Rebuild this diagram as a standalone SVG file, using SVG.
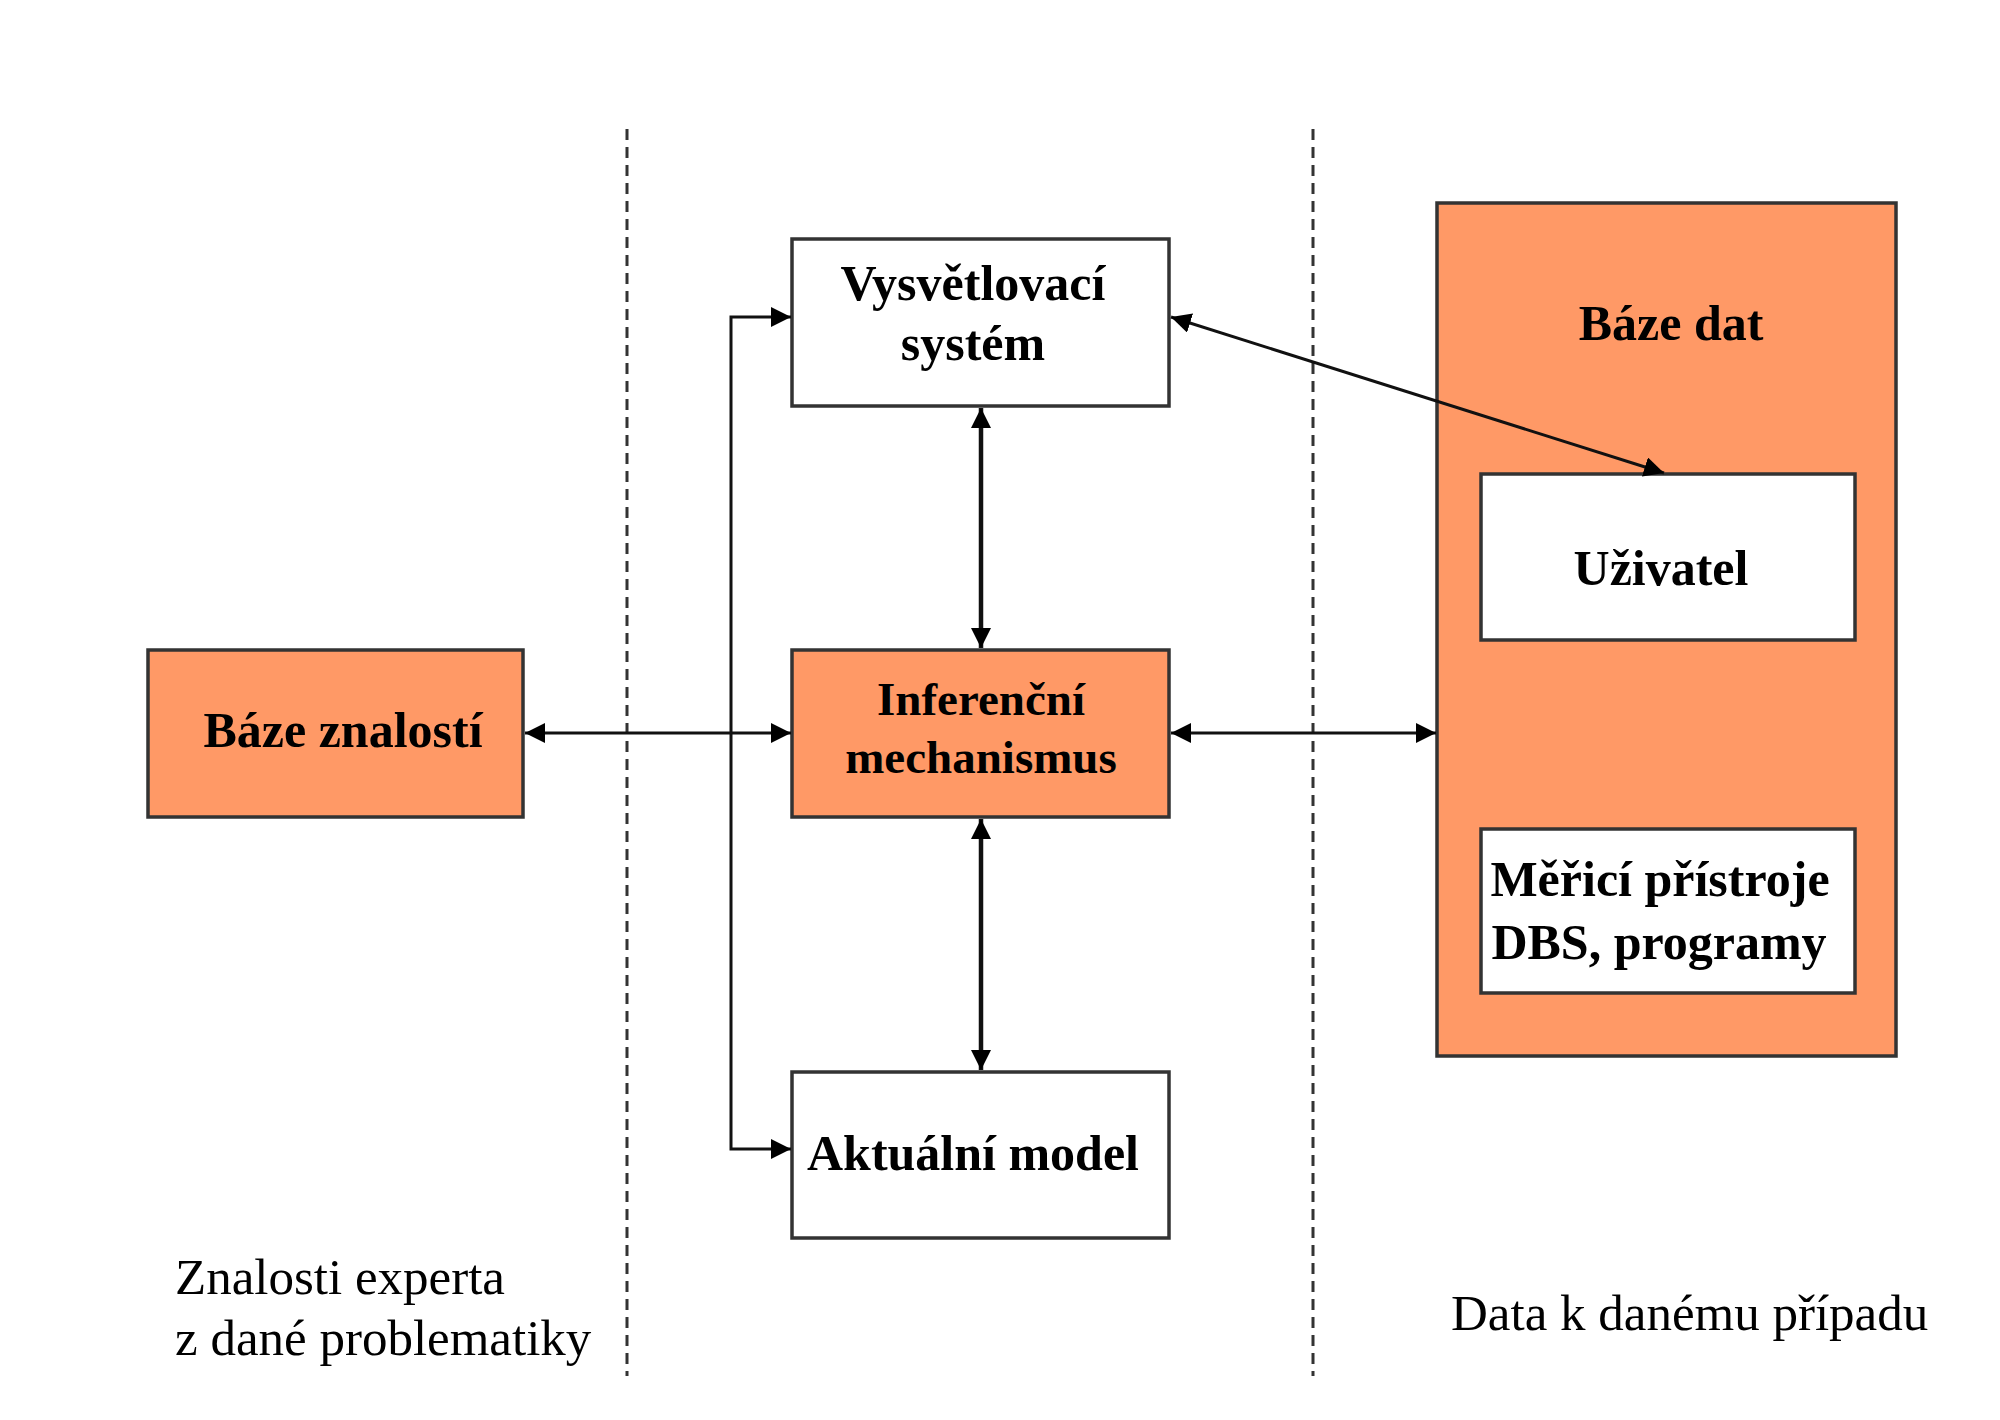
<svg xmlns="http://www.w3.org/2000/svg" width="2000" height="1420" viewBox="0 0 2000 1420">
<style>
.box{stroke:#333;stroke-width:3.5}
.org{fill:#FF9966}
.wht{fill:#FFFFFF}
.lbl{font-family:"Liberation Serif","Times New Roman",serif;font-weight:bold;font-size:50px;fill:#000;text-anchor:middle}
.sm{font-size:47px}
.note{font-family:"Liberation Serif","Times New Roman",serif;font-size:51px;fill:#000}
.div{stroke:#333;stroke-width:3;stroke-dasharray:11 7;fill:none}
.con{stroke:#111;stroke-width:3;fill:none}
.conb{stroke:#111;stroke-width:4.5;fill:none}
</style>
<defs>
<marker id="ah" markerUnits="userSpaceOnUse" markerWidth="20" markerHeight="20" refX="20" refY="10" orient="auto-start-reverse" viewBox="0 0 20 20">
<path d="M0,0 L20,10 L0,20 Z" fill="#000"/>
</marker>
</defs>
<rect width="2000" height="1420" fill="#fff"/>
<g id="dividers">
<line class="div" x1="627" y1="129" x2="627" y2="1376"/>
<line class="div" x1="1313" y1="129" x2="1313" y2="1376"/>
</g>
<g id="baze-znalosti">
<rect class="box org" x="148" y="650" width="375" height="167"/>
<text class="lbl" x="343" y="747">Báze znalostí</text>
</g>
<g id="vysvetlovaci-system">
<rect class="box wht" x="792" y="239" width="377" height="167"/>
<text class="lbl" x="973" y="300">Vysvětlovací</text>
<text class="lbl" x="973" y="360">systém</text>
</g>
<g id="inferencni-mechanismus">
<rect class="box org" x="792" y="650" width="377" height="167"/>
<text class="lbl sm" x="981" y="715">Inferenční</text>
<text class="lbl sm" x="981" y="773">mechanismus</text>
</g>
<g id="aktualni-model">
<rect class="box wht" x="792" y="1072" width="377" height="166"/>
<text class="lbl" x="973" y="1170">Aktuální model</text>
</g>
<g id="baze-dat">
<rect class="box org" x="1437" y="203" width="459" height="853"/>
<text class="lbl" x="1671" y="340">Báze dat</text>
</g>
<g id="uzivatel">
<rect class="box wht" x="1481" y="474" width="374" height="166"/>
<text class="lbl" x="1661" y="585">Uživatel</text>
</g>
<g id="merici-pristroje">
<rect class="box wht" x="1481" y="829" width="374" height="164"/>
<text class="lbl" x="1660" y="896">Měřicí přístroje</text>
<text class="lbl" x="1659" y="959">DBS, programy</text>
</g>
<g id="notes">
<text class="note" x="175" y="1294">Znalosti experta</text>
<text class="note" x="175" y="1355">z dané problematiky</text>
<text class="note" x="1451" y="1330">Data k danému případu</text>
</g>
<g id="connectors">
<line class="con" x1="525" y1="733" x2="791" y2="733" marker-start="url(#ah)" marker-end="url(#ah)"/>
<line class="con" x1="1171" y1="733" x2="1436" y2="733" marker-start="url(#ah)" marker-end="url(#ah)"/>
<line class="conb" x1="981" y1="408" x2="981" y2="648" marker-start="url(#ah)" marker-end="url(#ah)"/>
<line class="conb" x1="981" y1="819" x2="981" y2="1070" marker-start="url(#ah)" marker-end="url(#ah)"/>
<line class="con" x1="1171" y1="317" x2="1664" y2="473" marker-start="url(#ah)" marker-end="url(#ah)"/>
<path class="con" d="M791,317 H731 V1149 H791" marker-start="url(#ah)" marker-end="url(#ah)"/>
</g>
</svg>
